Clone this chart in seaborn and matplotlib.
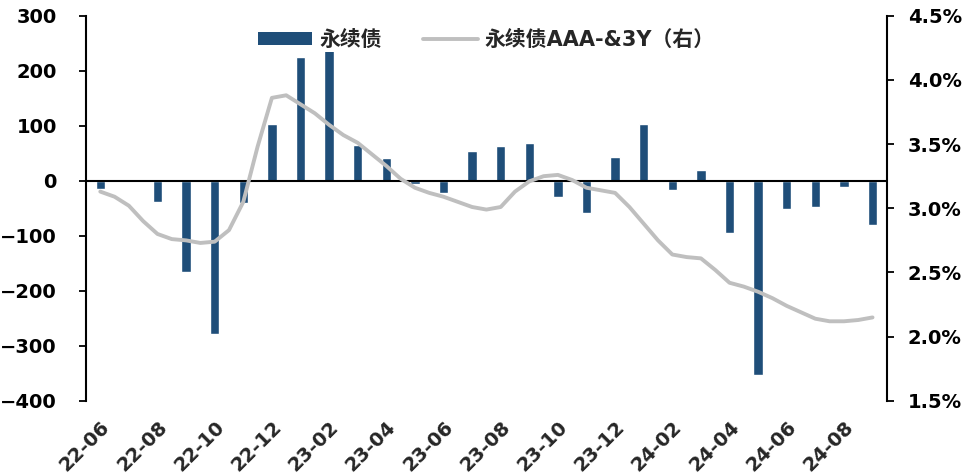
import numpy as np
import pandas as pd
import matplotlib
matplotlib.use('Agg')
import matplotlib.pyplot as plt
import seaborn as sns
from matplotlib.ticker import FuncFormatter, MultipleLocator
from matplotlib.patches import Patch
from matplotlib.lines import Line2D

# ---- data ----
months = ['22-06', '22-07', '22-08', '22-09', '22-10', '22-11', '22-12',
          '23-01', '23-02', '23-03', '23-04', '23-05', '23-06', '23-07',
          '23-08', '23-09', '23-10', '23-11', '23-12', '24-01', '24-02',
          '24-03', '24-04', '24-05', '24-06', '24-07', '24-08', '24-09']
perpetual_net = [-15, -1, -39, -165, -279, -41, 104, 224, 250, 65, 42, -6, -23, 55,
                 64, 68, -30, -58, 44, 104, -16, 19, -94, -353, -51, -47, -12, -81]
# AAA- 3Y perpetual bond yield (%), read every half month
spread_halfmonth = [3.13, 3.09, 3.02, 2.90, 2.80, 2.76, 2.75, 2.73, 2.74, 2.83,
                    3.05, 3.48, 3.86, 3.88, 3.81, 3.74, 3.65, 3.57, 3.51, 3.42,
                    3.33, 3.23, 3.16, 3.12, 3.09, 3.05, 3.01, 2.99, 3.01, 3.13,
                    3.21, 3.25, 3.26, 3.22, 3.16, 3.14, 3.12, 3.01, 2.88, 2.75,
                    2.64, 2.62, 2.61, 2.52, 2.42, 2.39, 2.35, 2.30, 2.24, 2.19,
                    2.14, 2.12, 2.12, 2.13, 2.15]
bar_label = '永续债'
line_label = '永续债AAA-&3Y（右）'

bar_color = '#1F4E79'
line_color = '#BFBFBF'

sns.set_style('white')
plt.rcParams['font.family'] = ['DejaVu Sans', 'Noto Sans CJK SC']

fig = plt.figure(figsize=(9.65, 4.75), dpi=100)
ax = fig.add_axes([0.0891, 0.156, 0.8299, 0.811])

bar_df = pd.DataFrame({'month': months, 'value': perpetual_net})
sns.barplot(data=bar_df, x='month', y='value', color=bar_color, saturation=1,
            width=0.33, ax=ax, zorder=2)
ax.axhline(0, color='black', lw=1.5, zorder=3)

ax.set_ylim(-400, 300)
ax.yaxis.set_major_locator(MultipleLocator(100))
ax.set_xlabel('')
ax.set_ylabel('')

ax2 = ax.twinx()
line_df = pd.DataFrame({'pos': np.arange(len(spread_halfmonth)) * 0.5,
                        'rate': spread_halfmonth})
sns.lineplot(data=line_df, x='pos', y='rate', color=line_color, lw=2.8, ax=ax2)
ax2.lines[-1].set_solid_joinstyle('round')
ax2.set_ylim(1.5, 4.5)
ax2.yaxis.set_major_locator(MultipleLocator(0.5))
ax2.yaxis.set_major_formatter(FuncFormatter(lambda v, p: f'{v:.1f}%'))
ax2.set_xlabel('')
ax2.set_ylabel('')
ax.set_xlim(-0.5, len(months) - 0.5)

ax.set_xticks(range(0, len(months), 2))
ax.set_xticklabels(months[::2], rotation=45, ha='right', rotation_mode='anchor',
                   fontsize=14, fontweight='bold')
ax.tick_params(axis='x', length=0, pad=12)
ax.tick_params(axis='y', left=True, direction='out', length=5, width=1.3,
               pad=16, labelsize=14, colors='black')
for lab in ax.get_yticklabels():
    lab.set_fontweight('bold')
ax2.tick_params(axis='y', right=True, direction='out', length=5, width=1.3,
                pad=10, labelsize=14, colors='black')
for lab in ax2.get_yticklabels():
    lab.set_fontweight('bold')

for a in (ax, ax2):
    for s in ('top', 'bottom'):
        a.spines[s].set_visible(False)
ax.spines['left'].set_visible(True)
ax.spines['left'].set_linewidth(1.5)
ax.spines['left'].set_color('black')
ax.spines['right'].set_visible(False)
ax2.spines['left'].set_visible(False)
ax2.spines['right'].set_visible(True)
ax2.spines['right'].set_linewidth(1.5)
ax2.spines['right'].set_color('black')

handles = [Patch(facecolor=bar_color, edgecolor='none'),
           Line2D([0], [0], color=line_color, lw=2.8)]
leg = ax2.legend(handles, [bar_label, line_label], loc='center',
                 bbox_to_anchor=(0.5, 0.937), ncol=2, frameon=True,
                 facecolor='white', edgecolor='none', framealpha=1,
                 handlelength=2.6, handleheight=0.6, handletextpad=0.35,
                 columnspacing=2.0, borderpad=0.1,
                 prop={'size': 15, 'weight': 'bold'})

fig.savefig('out.png', dpi=100)
